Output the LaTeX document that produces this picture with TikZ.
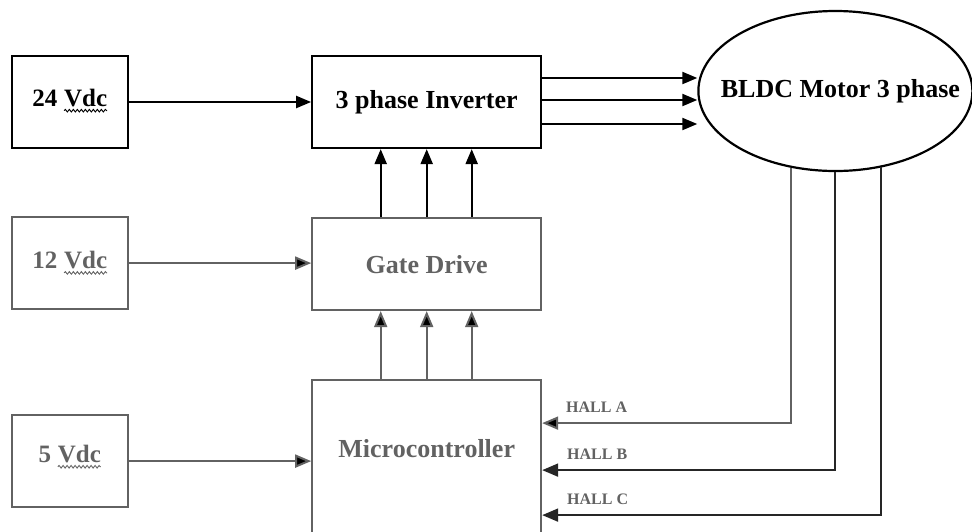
\documentclass[tikz,border=0pt]{standalone}
\usepackage{fontspec}
\setmainfont{Liberation Serif}
\usepackage{tikz}
\usetikzlibrary{arrows.meta, positioning, shapes.geometric, decorations.pathmorphing}
\definecolor{lowgray}{HTML}{626262}
\newcommand\wavy[1]{\tikz[baseline=(w.base)]{\node[inner sep=0pt, outer sep=0pt, minimum size=0pt, text depth=0pt, draw=none] (w) {#1};
    \draw[decorate, decoration={snake, amplitude=1.3pt, segment length=4pt}, line width=0.9pt]
        ([yshift=-4pt]w.base west) -- ([yshift=-4pt]w.base east);}}

\begin{document}
\begin{tikzpicture}[
        x=1pt, y=-1pt,
        supply/.style={draw, rectangle, minimum width=116pt, minimum height=92pt, inner sep=0pt, line width=2.2pt, font=\bfseries\fontsize{25}{29}\selectfont},
        block/.style={draw, rectangle, minimum width=229pt, minimum height=92pt, inner sep=0pt, line width=2.2pt, font=\bfseries\fontsize{26}{30}\selectfont},
        machine/.style={draw, ellipse, minimum width=274pt, minimum height=160pt, inner sep=0pt, line width=2.2pt},
        low/.style={draw=lowgray, text=lowgray, line width=2pt},
        power/.style={line width=2.2pt, -{Triangle[length=15pt, width=12pt]}},
        signal/.style={line width=2pt, draw=lowgray, -{Triangle[length=16pt, width=13pt]}},
        hall label/.style={text=lowgray, font=\bfseries\fontsize{16}{18}\selectfont, inner sep=0pt}
    ]
        \useasboundingbox (0,0) rectangle (972,531);
        \clip (0,0) rectangle (972,531);

        % power stage
        \node[supply, text depth=8pt] (v24) at (70,102) {24 \wavy{Vdc}};
        \node[block, right=182pt of v24] (inv) {3 phase Inverter};
        \node[machine, right=155pt of inv, yshift=11pt,
              label={[font=\bfseries\fontsize{26}{30}\selectfont, xshift=5pt]center:BLDC Motor 3 phase}] (motor) {};

        % driver and control
        \node[supply, low] (v12) [below=67pt of v24] {12 \wavy{Vdc}};
        \node[block, low, below=68pt of inv] (gate) {Gate Drive};
        \node[supply, low, text depth=14pt, below=104pt of v12] (v5) {5 \wavy{Vdc}};
        \node[block, low, below=68pt of gate, minimum height=170pt, text depth=34pt] (mcu) {Microcontroller};

        % supplies
        \draw[power] (v24.east) -- (v24.east -| inv.west);
        \draw[signal] (v12.east) -- (v12.east -| gate.west);
        \draw[signal] (v5.east) -- (v5.east -| mcu.west);

        % phases
        \foreach \dy in {24,2,-22}
            \draw[power] ([yshift=\dy pt]inv.east) -- ([yshift=\dy pt]inv.east -| motor.west);

        % gate signals
        \foreach \dx in {-46,0,45} {
            \draw[power] ([xshift=\dx pt]gate.north) -- ([xshift=\dx pt]inv.south);
            \draw[signal] ([xshift=\dx pt]mcu.north) -- ([xshift=\dx pt]gate.south);
        }

        % hall sensors
        \draw[signal] (motor.-120.8) |- ([yshift=42pt]mcu.east)
            node[hall label, pos=1, anchor=base west, xshift=23pt, yshift=11pt] {HALL A};
        \draw[signal, draw=black!85] (motor.south) |- ([yshift=-5pt]mcu.east)
            node[hall label, pos=1, anchor=base west, xshift=24pt, yshift=11pt] {HALL B};
        \draw[signal, draw=black!85] (motor.-59.2) |- ([yshift=-50pt]mcu.east)
            node[hall label, pos=1, anchor=base west, xshift=24pt, yshift=11pt] {HALL C};

    \end{tikzpicture}
\end{document}
